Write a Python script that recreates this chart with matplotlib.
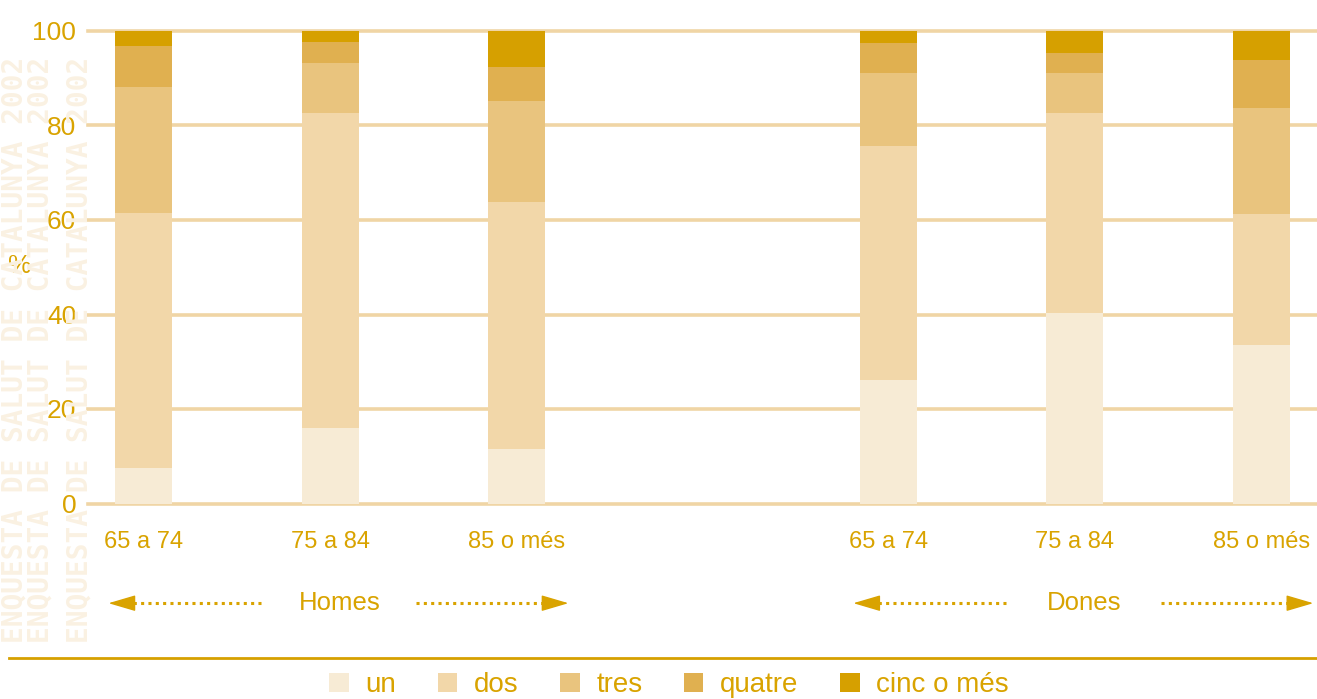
import numpy as np
from matplotlib import pyplot as plt
from matplotlib.patches import Patch

plt.rcParams["font.family"] = ["Liberation Sans", "DejaVu Sans"]

ages = ["65 a 74", "75 a 84", "85 o més"]
groups = ["Homes", "Dones"]
series = ["un", "dos", "tres", "quatre", "cinc o més"]

# percentages per bar: Homes (3 ages) then Dones (3 ages)
un = [7.5, 16.0, 11.5, 26.2, 40.4, 33.6]
dos = [54.0, 66.7, 52.4, 49.5, 42.3, 27.7]
tres = [26.7, 10.6, 21.2, 15.5, 8.5, 22.5]
quatre = [8.7, 4.3, 7.2, 6.2, 4.2, 10.1]
cinc = [3.1, 2.4, 7.7, 2.6, 4.6, 6.1]

colors = ["#F7EBD5", "#F2D7A9", "#E9C47E", "#E0B050", "#D6A000"]
gold = "#D9A300"
grid_col = "#F0D5A5"

fig = plt.figure(figsize=(13.17, 6.99), dpi=100)
ax = fig.add_axes([88 / 1317, (699 - 503.5) / 699, (1317 - 88) / 1317, 472.5 / 699])

# faint watermark on the left edge
for xf in [0.011, 0.031, 0.060]:
    fig.text(xf, 0.5, "ENQUESTA DE SALUT DE CATALUNYA 2002", rotation=90,
             ha="center", va="center", color="#FAF1E2", fontsize=20,
             family="DejaVu Sans Mono", fontweight="bold", zorder=0)

x = np.array([0, 1, 2, 4, 5, 6])
bottom = np.zeros(len(x))
for name, vals, c in zip(series, [un, dos, tres, quatre, cinc], colors):
    ax.bar(x, vals, width=0.306, bottom=bottom, color=c, label=name, zorder=3)
    bottom += np.array(vals)

ax.set_xlim(-0.3, 6.3)
ax.set_ylim(0, 100)
ax.set_yticks(np.arange(0, 101, 20))
ax.set_xticks(x)
ax.set_xticklabels(ages * 2)
ax.grid(axis="y", color=grid_col, linewidth=2.6)
for gl in ax.get_ygridlines():
    gl.set_clip_on(False)
ax.set_axisbelow(True)
for s in ax.spines.values():
    s.set_visible(False)
ax.tick_params(axis="y", length=0, pad=8.5, labelsize=19, labelcolor=gold)
ax.tick_params(axis="x", length=0, pad=20, labelsize=17, labelcolor=gold)
ax.text(-0.0555, 0.503, "%", transform=ax.transAxes, ha="center", va="center",
        color=gold, fontsize=19)

# group labels with dotted arrows
tr = ax.get_xaxis_transform()
yy = -0.211
head = 0.125
for g, name in zip([0, 4], groups):
    ax.text(g + 1.05, yy, name, transform=tr, ha="center", va="center",
            color=gold, fontsize=18.5)
    for tail, tip in [(g + 0.63, g - 0.19), (g + 1.46, g + 2.28)]:
        base = tip + head if tip < tail else tip - head
        ax.plot([tail, base], [yy, yy], transform=tr, color=gold, lw=2.2,
                linestyle=(0, (1, 1.4)), clip_on=False)
        ax.annotate("", xy=(tip, yy), xycoords=tr, xytext=(base, yy), textcoords=tr,
                    arrowprops=dict(arrowstyle="-|>,head_length=1.7,head_width=0.5",
                                    color=gold, lw=1, shrinkA=0, shrinkB=0))

# bottom rule
fig.add_artist(plt.Line2D([9 / 1317, 1.0], [0.0587, 0.0587], color="#D6A000", lw=2))

handles = [Patch(facecolor=c, edgecolor="none", label=n) for n, c in zip(series, colors)]
leg = fig.legend(handles=handles, loc="center", bbox_to_anchor=(0.508, 0.02), ncol=5,
                 frameon=False, fontsize=20, handlelength=0.7, handleheight=0.7,
                 handletextpad=0.6, columnspacing=1.5, labelcolor=gold)

fig.savefig("out.png", dpi=100)
